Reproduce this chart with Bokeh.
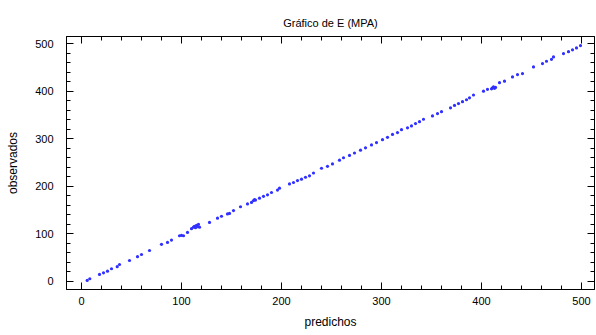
from bokeh.plotting import figure
from bokeh.models import Range1d, LinearAxis, SingleIntervalTicker, CustomJSTickFormatter
from bokeh.embed import file_html
from bokeh.resources import INLINE

title_text = "Gráfico de E (MPA)"
x_label = "predichos"
y_label = "observados"

predichos = [5.7, 8.3, 18, 22, 26, 30, 35.7, 38, 48, 56, 60, 68,
             80, 86, 90, 98, 100, 102, 106,
             110, 112, 113, 114, 115, 116, 117, 118,
             128, 136, 140, 146, 148, 152, 159, 166, 170,
             172, 173, 174, 178, 182, 186, 190, 196, 198,
             208, 212, 216, 220, 224, 228, 232, 240, 246, 251, 258, 262,
             268, 273, 279, 284, 290, 295, 301, 306, 311, 316,
             320, 326, 330, 334, 338, 342, 351, 356, 360, 369, 373, 377,
             381, 385, 388, 392, 402, 406,
             410, 411, 412, 413, 414,
             418, 423, 431, 436, 441, 452, 461, 465, 470, 472, 482, 487,
             491, 495, 499]
observados = [2, 5.6, 14.7, 18, 21.6, 26.6, 31, 35.6, 44, 52, 56.6, 65,
              78, 82, 87, 96, 97, 96, 103,
              111, 114, 116, 113, 118, 115, 120, 114,
              124, 133, 137, 142, 143, 149, 157, 163, 166,
              170, 172, 171, 175, 179, 182, 187, 192, 196,
              205, 208, 212, 215, 219, 222, 228, 238, 242, 247, 255, 260,
              265, 270, 276, 281, 287, 292, 298, 303, 309, 313,
              319, 323, 327, 332, 336, 341, 348, 353, 357, 365, 370, 374,
              378, 382, 386, 392, 400, 404,
              405, 407, 409, 406, 408,
              418, 421, 430, 435, 437, 451, 458, 463, 467, 472, 479, 483,
              487, 491, 496]

FONT = "Liberation Sans"

p = figure(width=596, height=335, output_backend="svg", toolbar_location=None,
           x_range=Range1d(-15, 513), y_range=Range1d(-17, 515),
           min_border_left=66, min_border_right=2, min_border_top=36,
           min_border_bottom=46, x_axis_location=None, y_axis_location=None)

p.title.text = title_text
p.title.align = "center"
p.title.text_font = FONT
p.title.text_font_size = "11px"
p.title.text_font_style = "normal"
p.title.text_color = "#000000"
p.title.offset = 0
p.title.standoff = 15

p.grid.visible = False
p.outline_line_color = "#000000"
p.outline_line_width = 1
p.background_fill_color = "white"
p.border_fill_color = "white"


def make_axis(show_labels):
    ax = LinearAxis(ticker=SingleIntervalTicker(interval=100, num_minor_ticks=5))
    ax.major_tick_in = 7
    ax.major_tick_out = 0
    ax.minor_tick_in = 4
    ax.minor_tick_out = 0
    ax.major_tick_line_color = "#000000"
    ax.minor_tick_line_color = "#000000"
    ax.axis_line_color = "#000000"
    ax.major_label_text_font = FONT
    ax.major_label_text_color = "#000000"
    ax.axis_label_text_font = FONT
    ax.axis_label_text_font_style = "normal"
    ax.axis_label_text_color = "#000000"
    if show_labels:
        ax.major_label_text_font_size = "11px"
        ax.axis_label_text_font_size = "12px"
    else:
        ax.formatter = CustomJSTickFormatter(code="return '';")
        ax.major_label_standoff = 0
    return ax


xb = make_axis(True)
xb.axis_label = x_label
xb.major_label_standoff = 7
xb.axis_label_standoff = 7
p.add_layout(xb, "below")

yl = make_axis(True)
yl.axis_label = y_label
yl.major_label_standoff = 13
yl.axis_label_standoff = 12
p.add_layout(yl, "left")

xt = make_axis(False)
p.add_layout(xt, "above")
yr = make_axis(False)
p.add_layout(yr, "right")

p.scatter(predichos, observados, size=3.2, marker="circle",
          fill_color="#3030ff", line_color=None)

open("out.html", "w").write(file_html(p, INLINE))
